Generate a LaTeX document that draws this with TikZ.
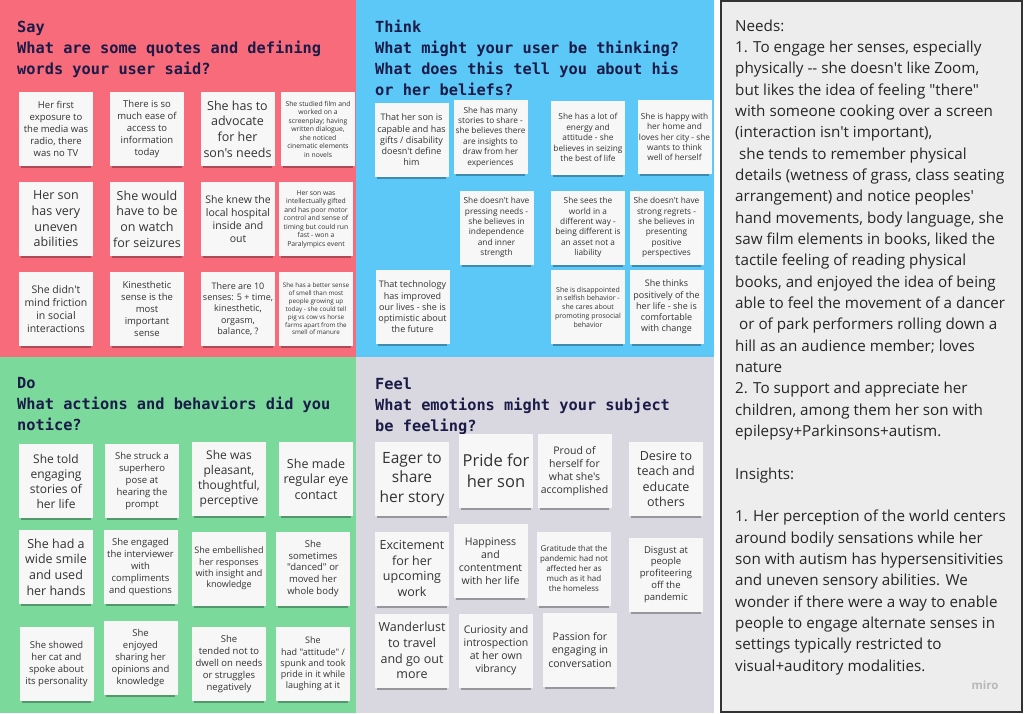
\documentclass[tikz,border=0pt]{standalone}
\usepackage{fontspec}
\usetikzlibrary{shadows}
\newfontfamily\osans{Open Sans}
\newfontfamily\titlefont{DejaVu Sans Mono}[BoldFont={DejaVu Sans Mono Bold}]
\definecolor{sayred}{HTML}{F76B7A}
\definecolor{thinkblue}{HTML}{5CC8F8}
\definecolor{dogreen}{HTML}{7BD99B}
\definecolor{feelgrey}{HTML}{D9D8E0}
\definecolor{panelgrey}{HTML}{EDEDED}
\definecolor{titleink}{HTML}{1B1B48}
\definecolor{noteink}{HTML}{333333}
\definecolor{notefill}{HTML}{F7F7F7}
\newcommand\fz[1]{\pgfmathsetmacro\fzb{#1*1.25}\fontsize{#1}{\fzb}\selectfont}
\newcommand\stick[5]{\node[note,font=\osans\fz{#4}] (#1) at (#2,#3) {#5};}
\tikzset{
  note/.style={rectangle, fill=notefill, text=noteink, align=center,
    minimum width=74pt, minimum height=74pt, inner sep=1pt,
    drop shadow={shadow xshift=0pt, shadow yshift=-5pt, shadow scale=0.94, opacity=0.3, fill=black}},
  quadtitle/.style={anchor=north west, inner sep=0pt, align=left, text=titleink,
    font=\titlefont\bfseries\fontsize{15.3}{21}\selectfont},
  panel/.style={draw=black!80, line width=1.6pt, fill=panelgrey}
}
\begin{document}
\begin{tikzpicture}[x=1pt,y=-1pt]
\useasboundingbox (0,0) rectangle (1024,713);
\fill[white] (0,0) rectangle (1024,713);
% quadrants
\fill[sayred] (0,0) rectangle (356,357);
\fill[thinkblue] (356,0) rectangle (714,357);
\fill[dogreen] (0,357) rectangle (356,713);
\fill[feelgrey] (356,357) rectangle (714,713);
\draw[panel] (721,1) rectangle (1022,712);
% titles
\node[quadtitle] (saytitle) at (17,20.5) {Say\\What are some quotes and defining\\words your user said?};
\node[quadtitle] (thinktitle) at (375,20) {Think\\What might your user be thinking?\\What does this tell you about his\\or her beliefs?};
\node[quadtitle] (dotitle) at (17,377.5) {Do\\What actions and behaviors did you\\notice?};
\node[quadtitle] (feeltitle) at (375,377.5) {Feel\\What emotions might your subject\\be feeling?};
% Say notes
\stick{s1}{56}{129}{9.5}{Her first\\exposure to\\the media was\\radio, there\\was no TV}
\stick{s2}{147}{129}{9.5}{There is so\\much ease of\\access to\\information\\today}
\stick{s3}{237.5}{129}{12.5}{She has to\\advocate\\for her\\son's needs}
\stick{s4}{318}{129}{6.8}{She studied film and\\worked on a\\screenplay; having\\written dialogue,\\she noticed\\cinematic elements\\in novels}
\stick{s5}{56}{219}{12.5}{Her son\\has very\\uneven\\abilities}
\stick{s6}{147}{219}{12.5}{She would\\have to be\\on watch\\for seizures}
\stick{s7}{238}{219}{10.5}{She knew the\\local hospital\\inside and\\out}
\stick{s8}{316}{219}{6.8}{Her son was\\intellectually gifted\\and has poor motor\\control and sense of\\timing but could run\\fast - won a\\Paralympics event}
\stick{s9}{56}{309}{10.5}{She didn't\\mind friction\\in social\\interactions}
\stick{s10}{147}{309}{9.5}{Kinesthetic\\sense is the\\most\\important\\sense}
\stick{s11}{238}{309}{9}{There are 10\\senses: 5 + time,\\kinesthetic,\\orgasm,\\balance, ?}
\stick{s12}{316}{309}{6.3}{She has a better sense\\of smell than most\\people growing up\\today - she could tell\\pig vs cow vs horse\\farms apart from the\\smell of manure}
% Think notes
\stick{t1}{411.5}{140}{9}{That her son is\\capable and has\\gifts / disability\\doesn't define\\him}
\stick{t2}{490.5}{137}{8.3}{She has many\\stories to share -\\she believes there\\are insights to\\draw from her\\experiences}
\stick{t3}{588}{137.5}{8.3}{She has a lot of\\energy and\\attitude - she\\believes in seizing\\the best of life}
\stick{t4}{674.5}{137}{8.3}{She is happy with\\her home and\\loves her city - she\\wants to think\\well of herself}
\stick{t5}{496.5}{227.5}{8.3}{She doesn't have\\pressing needs -\\she believes in\\independence\\and inner\\strength}
\stick{t6}{588}{227.5}{8.3}{She sees the\\world in a\\different way -\\being different is\\an asset not a\\liability}
\stick{t7}{666.5}{227.5}{8.3}{She doesn't have\\strong regrets -\\she believes in\\presenting\\positive\\perspectives}
\stick{t8}{412.5}{307}{9}{That technology\\has improved\\our lives - she is\\optimistic about\\the future}
\stick{t9}{588}{307}{7}{She is disappointed\\in selfish behavior -\\she cares about\\promoting prosocial\\behavior}
\stick{t10}{666.5}{307}{9}{She thinks\\positively of the\\her life - she is\\comfortable\\with change}
% Do notes
\stick{d1}{56}{481}{12}{She told\\engaging\\stories of\\her life}
\stick{d2}{142}{481}{9.5}{She struck a\\superhero\\pose at\\hearing the\\prompt}
\stick{d3}{229}{479}{12}{She was\\pleasant,\\thoughtful,\\perceptive}
\stick{d4}{316}{479}{12.5}{She made\\regular eye\\contact}
\stick{d5}{56}{567}{12.5}{She had a\\wide smile\\and used\\her hands}
\stick{d6}{140.5}{567}{9.5}{She engaged\\the interviewer\\with\\compliments\\and questions}
\stick{d7}{229}{568.5}{9}{She embellished\\her responses\\with insight and\\knowledge}
\stick{d8}{313}{568.5}{9.5}{She\\sometimes\\"danced" or\\moved her\\whole body}
\stick{d9}{56.5}{664}{9.5}{She showed\\her cat and\\spoke about\\its personality}
\stick{d10}{140.5}{658}{9.5}{She\\enjoyed\\sharing her\\opinions and\\knowledge}
\stick{d11}{229}{664}{9.5}{She\\tended not to\\dwell on needs\\or struggles\\negatively}
\stick{d12}{313}{664}{9}{She\\had "attitude" /\\spunk and took\\pride in it while\\laughing at it}
% Feel notes
\stick{f1}{412}{479}{15.5}{Eager to\\share\\her story}
\stick{f2}{496}{471}{16.5}{Pride for\\her son}
\stick{f3}{574.5}{471}{10.5}{Proud of\\herself for\\what she's\\accomplished}
\stick{f4}{666}{479}{12.5}{Desire to\\teach and\\educate\\others}
\stick{f5}{412}{568.5}{12.5}{Excitement\\for her\\upcoming\\work}
\stick{f6}{490.5}{561}{10.5}{Happiness\\and\\contentment\\with her life}
\stick{f7}{574}{568.5}{8}{Gratitude that the\\pandemic had not\\affected her as\\much as it had\\the homeless}
\stick{f8}{666}{574.5}{9.5}{Disgust at\\people\\profiteering\\off the\\pandemic}
\stick{f9}{412}{650.5}{12.5}{Wanderlust\\to travel\\and go out\\more}
\stick{f10}{496}{650.5}{10.5}{Curiosity and\\introspection\\at her own\\vibrancy}
\stick{f11}{580}{650}{10.5}{Passion for\\engaging in\\conversation}
% right panel text
\node[anchor=north west, inner sep=0pt, align=left, text=black!85,
  font=\osans\fontsize{15.2}{21.33}\selectfont] (paneltext) at (735,19.5) {%
Needs:\\
1. To engage her senses, especially\\
physically -- she doesn't like Zoom,\\
but likes the idea of feeling "there"\\
with someone cooking over a screen\\
(interaction isn't important),\\
\hspace*{4pt}she tends to remember physical\\
details (wetness of grass, class seating\\
arrangement) and notice peoples'\\
hand movements, body language, she\\
saw film elements in books, liked the\\
tactile feeling of reading physical\\
books, and enjoyed the idea of being\\
able to feel the movement of a dancer\\
\hspace*{4pt}or of park performers rolling down a\\
hill as an audience member; loves\\
nature\\
2. To support and appreciate her\\
children, among them her son with\\
epilepsy+Parkinsons+autism.\\
\strut\\
Insights:\\
\strut\\
1. Her perception of the world centers\\
around bodily sensations while her\\
son with autism has hypersensitivities\\
and uneven sensory abilities. We\\
wonder if there were a way to enable\\
people to engage alternate senses in\\
settings typically restricted to\\
visual+auditory modalities.};
\node[anchor=center, inner sep=0pt, text=black!28, font=\osans\bfseries\fontsize{11.5}{13}\selectfont] (miro) at (985,685) {miro};
\end{tikzpicture}
\end{document}
